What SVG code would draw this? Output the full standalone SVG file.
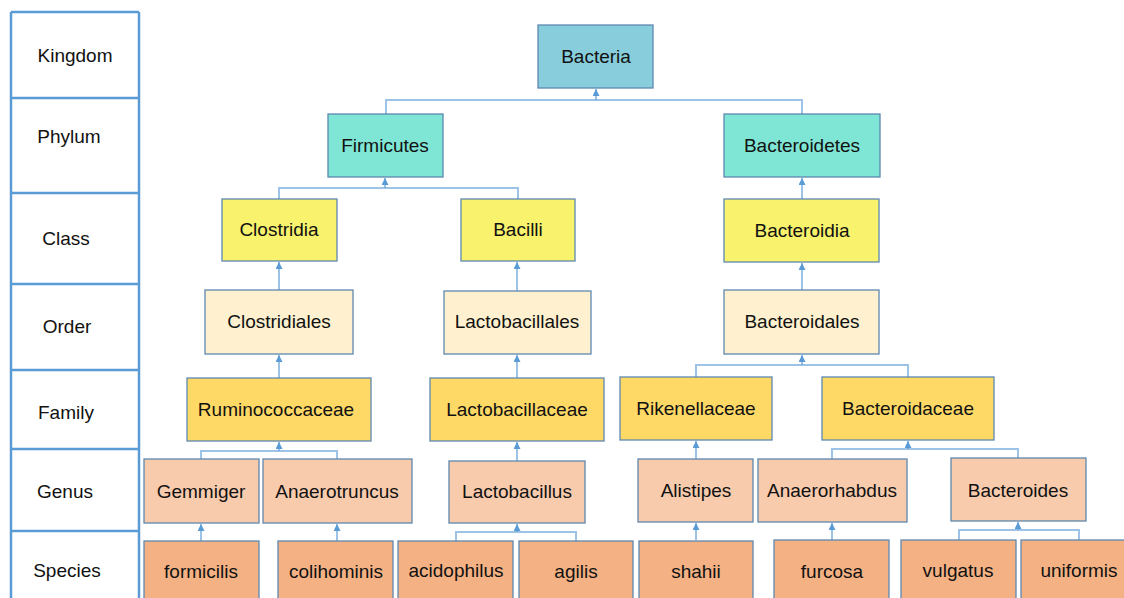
<svg xmlns="http://www.w3.org/2000/svg" width="1124" height="598" viewBox="0 0 1124 598">
<style>
text{font-family:"Liberation Sans",Arial,sans-serif;font-size:19px;fill:#111;text-anchor:middle}
.n rect{stroke:#5E88B0;stroke-width:1.3}
.k{fill:#87CDDB}.p{fill:#7FE5D4}.c{fill:#F8F26C}.o{fill:#FFF1CF}.f{fill:#FFD966}.g{fill:#F8CBAD}.s{fill:#F4B183}
.bus{fill:none;stroke:#9DC3E6;stroke-width:2}
.v{stroke:#5B9BD5;stroke-width:1.2;marker-end:url(#ah)}
.grid{fill:none;stroke:#5B9BD5;stroke-width:2.5}
</style>
<defs>
<marker id="ah" viewBox="0 0 8 8" refX="8" refY="4" markerWidth="8" markerHeight="7" orient="auto" markerUnits="userSpaceOnUse">
<path d="M0,0 L8,4 L0,8 z" fill="#5B9BD5"/>
</marker>
</defs>
<rect width="1124" height="598" fill="#fff"/>
<g id="ranks">
<path class="grid" d="M11,12 H139 M11,12 V610 M139,12 V610 M11,98 H139 M11,193 H139 M11,284 H139 M11,370 H139 M11,449 H139 M11,531 H139"/>
<text x="75" y="62">Kingdom</text>
<text x="69" y="143">Phylum</text>
<text x="66" y="245">Class</text>
<text x="67" y="333">Order</text>
<text x="66" y="419">Family</text>
<text x="65" y="498">Genus</text>
<text x="67" y="577">Species</text>
</g>
<g id="connectors">
<path class="bus" d="M386,114 V100 H802 V114"/>
<line class="v" x1="596" y1="100" x2="596" y2="89"/>
<path class="bus" d="M279,199 V188 H518 V199"/>
<line class="v" x1="385" y1="188" x2="385" y2="178"/>
<line class="v" x1="802" y1="199" x2="802" y2="178"/>
<line class="v" x1="279" y1="290" x2="279" y2="262"/>
<line class="v" x1="517" y1="291" x2="517" y2="262"/>
<line class="v" x1="802" y1="290" x2="802" y2="263"/>
<line class="v" x1="279" y1="378" x2="279" y2="355"/>
<line class="v" x1="517" y1="378" x2="517" y2="355"/>
<path class="bus" d="M696,377 V365 H908 V377"/>
<line class="v" x1="802" y1="365" x2="802" y2="355"/>
<path class="bus" d="M201,459 V451 H337 V459"/>
<line class="v" x1="279" y1="451" x2="279" y2="442"/>
<line class="v" x1="517" y1="461" x2="517" y2="442"/>
<line class="v" x1="696" y1="459" x2="696" y2="441"/>
<path class="bus" d="M832,459 V449 H1018 V458"/>
<line class="v" x1="908" y1="449" x2="908" y2="441"/>
<line class="v" x1="201" y1="541" x2="201" y2="524"/>
<line class="v" x1="337" y1="541" x2="337" y2="524"/>
<path class="bus" d="M456,541 V532 H576 V541"/>
<line class="v" x1="517" y1="532" x2="517" y2="524"/>
<line class="v" x1="696" y1="540" x2="696" y2="523"/>
<line class="v" x1="832" y1="540" x2="832" y2="523"/>
<path class="bus" d="M959,540 V530 H1079 V540"/>
<line class="v" x1="1018" y1="530" x2="1018" y2="522"/>
</g>
<g id="bacteria" class="n"><rect class="k" x="538" y="25" width="115" height="63"/><text x="596" y="63">Bacteria</text></g>
<g id="firmicutes" class="n"><rect class="p" x="328" y="114" width="115" height="63"/><text x="385" y="152">Firmicutes</text></g>
<g id="bacteroidetes" class="n"><rect class="p" x="724" y="114" width="156" height="63"/><text x="802" y="152">Bacteroidetes</text></g>
<g id="clostridia" class="n"><rect class="c" x="222" y="199" width="115" height="62"/><text x="279" y="236">Clostridia</text></g>
<g id="bacilli" class="n"><rect class="c" x="461" y="199" width="114" height="62"/><text x="518" y="236">Bacilli</text></g>
<g id="bacteroidia" class="n"><rect class="c" x="724" y="199" width="155" height="63"/><text x="802" y="237">Bacteroidia</text></g>
<g id="clostridiales" class="n"><rect class="o" x="205" y="290" width="148" height="64"/><text x="279" y="328">Clostridiales</text></g>
<g id="lactobacillales" class="n"><rect class="o" x="444" y="291" width="147" height="63"/><text x="517" y="328">Lactobacillales</text></g>
<g id="bacteroidales" class="n"><rect class="o" x="724" y="290" width="155" height="64"/><text x="802" y="328">Bacteroidales</text></g>
<g id="ruminococcaceae" class="n"><rect class="f" x="187" y="378" width="184" height="63"/><text x="276" y="416">Ruminococcaceae</text></g>
<g id="lactobacillaceae" class="n"><rect class="f" x="430" y="378" width="174" height="63"/><text x="517" y="416">Lactobacillaceae</text></g>
<g id="rikenellaceae" class="n"><rect class="f" x="620" y="377" width="152" height="63"/><text x="696" y="415">Rikenellaceae</text></g>
<g id="bacteroidaceae" class="n"><rect class="f" x="822" y="377" width="172" height="63"/><text x="908" y="415">Bacteroidaceae</text></g>
<g id="gemmiger" class="n"><rect class="g" x="144" y="459" width="115" height="64"/><text x="201" y="498">Gemmiger</text></g>
<g id="anaerotruncus" class="n"><rect class="g" x="263" y="459" width="149" height="64"/><text x="337" y="498">Anaerotruncus</text></g>
<g id="lactobacillus" class="n"><rect class="g" x="449" y="461" width="136" height="62"/><text x="517" y="498">Lactobacillus</text></g>
<g id="alistipes" class="n"><rect class="g" x="638" y="459" width="115" height="63"/><text x="696" y="497">Alistipes</text></g>
<g id="anaerorhabdus" class="n"><rect class="g" x="758" y="459" width="149" height="63"/><text x="832" y="497">Anaerorhabdus</text></g>
<g id="bacteroides" class="n"><rect class="g" x="951" y="458" width="135" height="63"/><text x="1018" y="497">Bacteroides</text></g>
<g id="formicilis" class="n"><rect class="s" x="144" y="541" width="115" height="70"/><text x="201" y="578">formicilis</text></g>
<g id="colihominis" class="n"><rect class="s" x="278" y="541" width="115" height="70"/><text x="336" y="578">colihominis</text></g>
<g id="acidophilus" class="n"><rect class="s" x="398" y="541" width="115" height="70"/><text x="456" y="577">acidophilus</text></g>
<g id="agilis" class="n"><rect class="s" x="519" y="541" width="114" height="70"/><text x="576" y="578">agilis</text></g>
<g id="shahii" class="n"><rect class="s" x="639" y="541" width="114" height="70"/><text x="696" y="578">shahii</text></g>
<g id="furcosa" class="n"><rect class="s" x="774" y="540" width="115" height="70"/><text x="832" y="578">furcosa</text></g>
<g id="vulgatus" class="n"><rect class="s" x="901" y="540" width="115" height="70"/><text x="958" y="577">vulgatus</text></g>
<g id="uniformis" class="n"><rect class="s" x="1021" y="540" width="115" height="70"/><text x="1079" y="577">uniformis</text></g>
</svg>
